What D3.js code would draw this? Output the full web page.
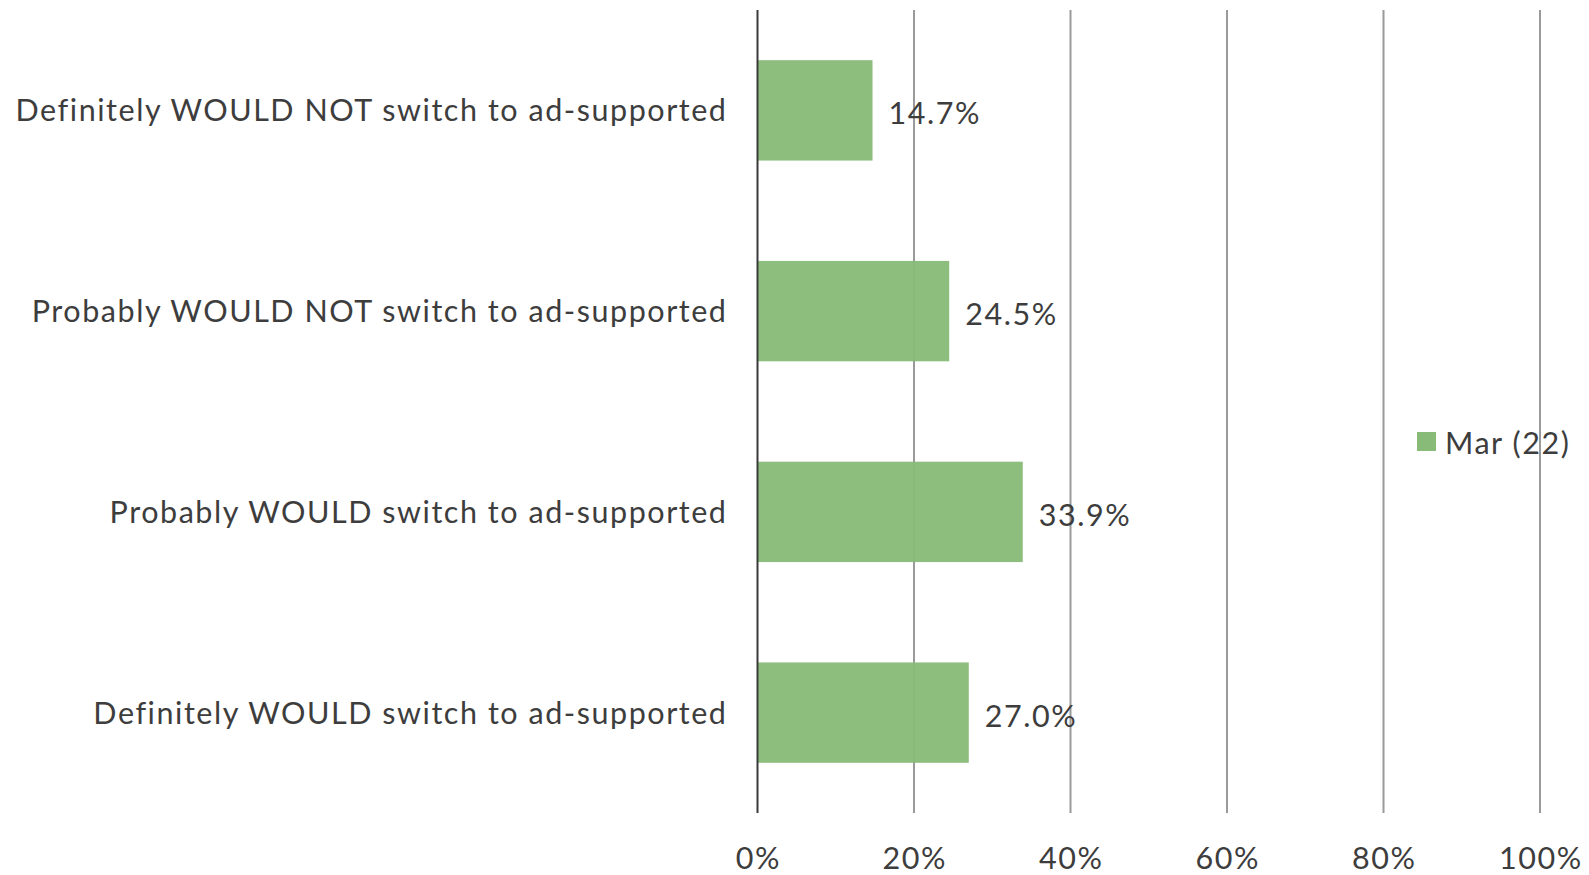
<!DOCTYPE html>
<html>
<head>
<meta charset="utf-8">
<script src="https://cdn.jsdelivr.net/npm/d3@7"></script>
<style>
  html, body { margin: 0; padding: 0; background: #ffffff; }
  svg { display: block; }
  text { font-family: Lato, "Open Sans", sans-serif; fill: #3d3d3d; }
</style>
</head>
<body>
<svg id="chart" width="1589" height="875"></svg>
<script>
// Survey answers, top to bottom
const categories = [
  "Definitely WOULD NOT switch to ad-supported",
  "Probably WOULD NOT switch to ad-supported",
  "Probably WOULD switch to ad-supported",
  "Definitely WOULD switch to ad-supported"
];
// Share of respondents, in percent
const values = [14.7, 24.5, 33.9, 27.0];
const seriesName = "Mar (22)";
const tickValues = [0, 20, 40, 60, 80, 100];

const svg = d3.select("#chart");
const plot = { left: 757.5, right: 1540, top: 10, bottom: 813 };
const fontSize = 30.5;
const spacing = 1.55;
const barColor = "#87bb77";

const x = d3.scaleLinear().domain([0, 100]).range([plot.left, plot.right]);
const y = d3.scaleBand().domain(categories).range([plot.top, plot.bottom]).paddingInner(0.5).paddingOuter(0.25);

function styleText(sel) {
  sel.attr("font-size", fontSize)
     .attr("letter-spacing", spacing)
     .attr("dominant-baseline", "central");
}

// Vertical gridlines
svg.append("g")
  .selectAll("line")
  .data(tickValues.filter(d => d > 0))
  .join("line")
  .attr("x1", d => x(d)).attr("x2", d => x(d))
  .attr("y1", plot.top).attr("y2", plot.bottom)
  .attr("stroke", "#9a9a9a")
  .attr("stroke-width", 2);

// Bars
svg.append("g")
  .selectAll("rect")
  .data(values)
  .join("rect")
  .attr("x", x(0))
  .attr("y", (d, i) => y(categories[i]))
  .attr("width", d => x(d) - x(0))
  .attr("height", y.bandwidth())
  .attr("fill", barColor)
  .attr("fill-opacity", 0.95);

// Category axis line at 0%
svg.append("line")
  .attr("x1", x(0)).attr("x2", x(0))
  .attr("y1", plot.top).attr("y2", plot.bottom)
  .attr("stroke", "#3a3a3a")
  .attr("stroke-width", 2);

// Category labels
svg.append("g")
  .selectAll("text")
  .data(categories)
  .join("text")
  .attr("x", x(0) - 30)
  .attr("y", d => y(d) + y.bandwidth() / 2 - 1)
  .attr("text-anchor", "end")
  .call(styleText)
  .text(d => d);

// Value labels
svg.append("g")
  .selectAll("text")
  .data(values)
  .join("text")
  .attr("x", d => x(d) + 16)
  .attr("y", (d, i) => y(categories[i]) + y.bandwidth() / 2 + 2)
  .call(styleText)
  .text(d => d.toFixed(1) + "%");

// Percent axis tick labels
svg.append("g")
  .selectAll("text")
  .data(tickValues)
  .join("text")
  .attr("x", d => x(d) + spacing / 2)
  .attr("y", 857)
  .attr("text-anchor", "middle")
  .call(styleText)
  .text(d => d + "%");

// Legend
const legend = svg.append("g").attr("transform", "translate(1417,442)");
legend.append("rect")
  .attr("x", 0).attr("y", -10)
  .attr("width", 19).attr("height", 19)
  .attr("fill", barColor);
legend.append("text")
  .attr("x", 28).attr("y", 0)
  .call(styleText)
  .text(seriesName);
</script>
</body>
</html>
